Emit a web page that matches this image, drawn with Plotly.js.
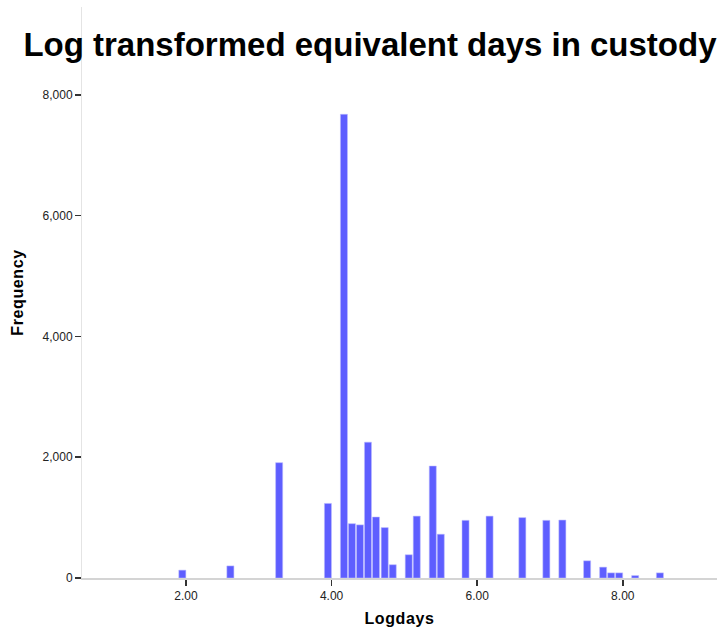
<!DOCTYPE html>
<html>
<head>
<meta charset="utf-8">
<script src="https://cdn.plot.ly/plotly-3.0.1.min.js"></script>
<style>
html,body{margin:0;padding:0;background:#fff;}
#chart{width:717px;height:632px;}
#chart .xtitle, #chart .ytitle{letter-spacing:0.6px;}
</style>
</head>
<body>
<div id="chart"></div>
<script>
// Bin centres (Logdays) and frequencies
var binCenters = [1.95, 2.61, 3.28, 3.95, 4.17, 4.28, 4.39, 4.50, 4.61, 4.73, 4.84, 5.06, 5.17, 5.39, 5.50, 5.84, 6.17, 6.62, 6.95, 7.17, 7.51, 7.73, 7.84, 7.95, 8.17, 8.51];
var frequencies = [130, 200, 1910, 1235, 7680, 900, 880, 2250, 1010, 835, 220, 385, 1025, 1855, 725, 955, 1025, 1000, 955, 960, 285, 180, 85, 85, 40, 85];
var xTickValues = [2, 4, 6, 8];
var yTickValues = [0, 2000, 4000, 6000, 8000];

var font = 'Arial, "Liberation Sans", sans-serif';

var trace = {
  type: 'bar',
  x: binCenters,
  y: frequencies,
  width: 0.097,
  marker: {color: 'rgb(94,94,255)', line: {color: 'rgba(190,190,255,0.9)', width: 0.6}},
  hoverinfo: 'skip'
};

var layout = {
  width: 717,
  height: 632,
  margin: {l: 82, r: 0, t: 7, b: 54},
  paper_bgcolor: '#fff',
  plot_bgcolor: '#fff',
  showlegend: false,
  font: {family: font, color: '#222', size: 12},
  title: {
    text: '<b>Log transformed equivalent days in custody</b>',
    font: {family: font, size: 33, color: '#000'},
    xref: 'container', yref: 'container',
    x: 0.516, xanchor: 'center',
    y: 0.929, yanchor: 'middle'
  },
  xaxis: {
    range: [0.572, 9.294],
    tickvals: xTickValues,
    tickformat: '.2f',
    ticks: 'outside', ticklen: 6, tickwidth: 1.5, tickcolor: '#333',
    showline: true, linecolor: '#d4d4d4', linewidth: 1.5,
    showgrid: false, zeroline: false,
    tickfont: {family: font, size: 12, color: '#222'},
    title: {text: '<b>Logdays</b>', font: {family: font, size: 16, color: '#000'}, standoff: 11}
  },
  yaxis: {
    range: [0, 9457],
    tickvals: yTickValues,
    tickformat: ',d',
    ticks: 'outside', ticklen: 6, tickwidth: 1.5, tickcolor: '#333',
    showline: true, linecolor: '#e4e4e4', linewidth: 1,
    showgrid: false, zeroline: false,
    tickfont: {family: font, size: 12, color: '#222'},
    title: {text: '<b>Frequency</b>', font: {family: font, size: 16, color: '#000'}, standoff: 14}
  }
};

Plotly.newPlot('chart', [trace], layout, {displayModeBar: false, staticPlot: true});
</script>
</body>
</html>
